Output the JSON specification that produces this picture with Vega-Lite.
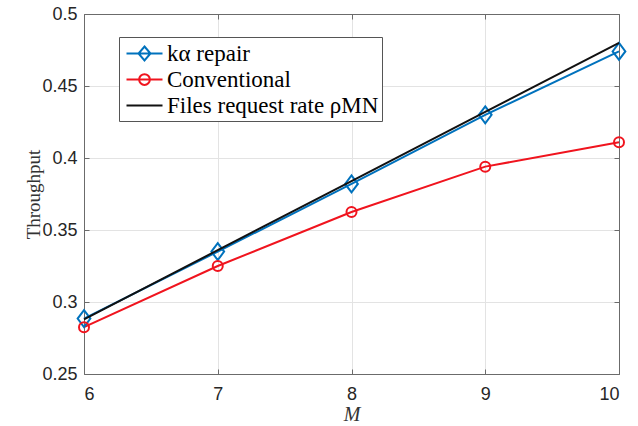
{
  "$schema": "https://vega.github.io/schema/vega-lite/v6.json",
  "width": 535,
  "height": 360,
  "autosize": "none",
  "padding": {"left": 84, "top": 14, "right": 19, "bottom": 52},
  "background": "white",
  "config": {
    "view": {"stroke": null},
    "axis": {
      "labelFont": "Liberation Sans",
      "labelFontSize": 18,
      "labelColor": "#262626",
      "titleFont": "Liberation Serif",
      "titleFontWeight": "normal",
      "titleColor": "#333333",
      "domainColor": "#6b6b6b",
      "domainWidth": 1,
      "tickColor": "#6b6b6b",
      "tickSize": -5,
      "gridColor": "#e3e3e3",
      "gridWidth": 1
    },
    "legend": {
      "labelFont": "Liberation Serif",
      "labelFontSize": 23,
      "labelLimit": 0
    }
  },
  "data": {
    "values": [
      {"M": 6, "T": 0.2885, "series": "kα repair"},
      {"M": 7, "T": 0.335, "series": "kα repair"},
      {"M": 8, "T": 0.382, "series": "kα repair"},
      {"M": 9, "T": 0.43, "series": "kα repair"},
      {"M": 10, "T": 0.474, "series": "kα repair"},
      {"M": 6, "T": 0.2825, "series": "Conventional"},
      {"M": 7, "T": 0.325, "series": "Conventional"},
      {"M": 8, "T": 0.3625, "series": "Conventional"},
      {"M": 9, "T": 0.394, "series": "Conventional"},
      {"M": 10, "T": 0.411, "series": "Conventional"},
      {"M": 6, "T": 0.288, "series": "Files request rate ρMN"},
      {"M": 7, "T": 0.336, "series": "Files request rate ρMN"},
      {"M": 8, "T": 0.384, "series": "Files request rate ρMN"},
      {"M": 9, "T": 0.432, "series": "Files request rate ρMN"},
      {"M": 10, "T": 0.48, "series": "Files request rate ρMN"}
    ]
  },
  "resolve": {"axis": {"x": "independent", "y": "independent"}},
  "layer": [
    {
      "transform": [{"filter": "datum.series !== 'Files request rate ρMN'"}],
      "mark": {"type": "line", "strokeWidth": 2},
      "encoding": {
        "x": {
          "field": "M", "type": "quantitative",
          "scale": {"domain": [6, 10], "nice": false, "zero": false},
          "axis": {"values": [6, 7, 8, 9, 10], "title": "M", "titleFontStyle": "italic", "titleFontSize": 20, "titlePadding": 1, "labelPadding": 16, "grid": true}
        },
        "y": {
          "field": "T", "type": "quantitative",
          "scale": {"domain": [0.25, 0.5], "nice": false, "zero": false},
          "axis": {"values": [0.25, 0.3, 0.35, 0.4, 0.45, 0.5], "format": ".2~f", "title": "Throughput", "titleFontSize": 19, "titlePadding": -2, "labelPadding": 12, "grid": true}
        },
        "color": {
          "field": "series", "type": "nominal",
          "scale": {"domain": ["kα repair", "Conventional", "Files request rate ρMN"], "range": ["#0072BD", "#F0141E", "#111111"]},
          "legend": {
            "title": null,
            "orient": "none",
            "legendX": 35,
            "legendY": 23,
            "fillColor": "white",
            "strokeColor": "#555555",
            "padding": 3,
            "labelFont": "Liberation Serif",
            "labelFontSize": 23,
            "labelLimit": 0,
            "labelColor": "#000000",
            "labelOffset": 9,
            "symbolOffset": 9,
            "symbolSize": 625,
            "symbolStrokeWidth": 2,
            "rowPadding": 0,
            "encode": {
              "symbols": {
                "update": {
                  "shape": {"signal": "datum.value === 'kα repair' ? 'M-1.44,0H1.44M0,-0.56L0.48,0L0,0.56L-0.48,0Z' : datum.value === 'Conventional' ? 'M-1.44,0H1.44M0.43,0A0.43,0.43 0 1,1 -0.43,0A0.43,0.43 0 1,1 0.43,0' : 'M-1.44,0H1.44'"},
                  "fill": {"value": "transparent"}
                }
              }
            }
          }
        }
      }
    },
    {
      "transform": [{"filter": "datum.series !== 'Files request rate ρMN'"}],
      "mark": {"type": "point", "filled": false, "strokeWidth": 2, "opacity": 1},
      "encoding": {
        "x": {"field": "M", "type": "quantitative", "axis": null},
        "y": {"field": "T", "type": "quantitative", "axis": null},
        "color": {"field": "series", "type": "nominal", "legend": null},
        "shape": {
          "field": "series", "type": "nominal", "legend": null,
          "scale": {"domain": ["kα repair", "Conventional"], "range": ["M0,-1.2L0.9,0L0,1.2L-0.9,0Z", "circle"]}
        },
        "size": {
          "field": "series", "type": "nominal", "legend": null,
          "scale": {"domain": ["kα repair", "Conventional"], "range": [200, 100]}
        }
      }
    },
    {
      "transform": [{"filter": "datum.series === 'Files request rate ρMN'"}],
      "mark": {"type": "line", "strokeWidth": 2},
      "encoding": {
        "x": {"field": "M", "type": "quantitative", "axis": {"orient": "top", "values": [6, 7, 8, 9, 10], "labels": false, "title": null, "grid": false}},
        "y": {"field": "T", "type": "quantitative", "axis": {"orient": "right", "values": [0.25, 0.3, 0.35, 0.4, 0.45, 0.5], "labels": false, "title": null, "grid": false}},
        "color": {"field": "series", "type": "nominal", "legend": null}
      }
    }
  ]
}
